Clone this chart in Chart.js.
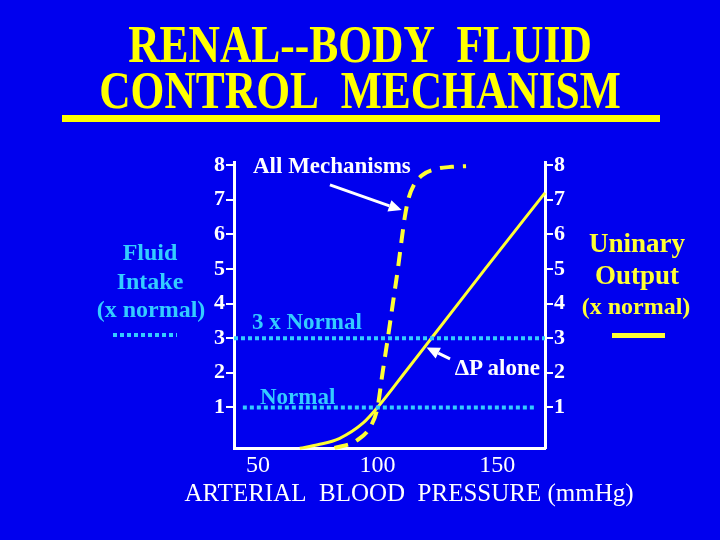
<!DOCTYPE html>
<html lang="en">
<head>
    <meta charset="UTF-8">
    <title>Renal--Body Fluid Control Mechanism</title>
    <script src="https://cdn.jsdelivr.net/npm/chart.js"></script>
    <style>
        body {
            margin: 0;
            background: #0000ee;
        }

        #wrap {
            position: relative;
            width: 720px;
            height: 540px;
            overflow: hidden;
            background: #0000ee;
            font-family: "Liberation Serif", "Times New Roman", serif;
            font-weight: bold;
        }

        #chart {
            position: absolute;
            left: 0;
            top: 0;
        }

        .t {
            position: absolute;
            white-space: nowrap;
            line-height: 1;
        }

        .title {
            left: 0;
            width: 720px;
            text-align: center;
            color: #ffff00;
            font-size: 53px;
            line-height: 53px;
            transform: scaleX(0.82);
        }

        .center { transform: translateX(-50%); }

        #bar {
            position: absolute;
            left: 62px;
            top: 115px;
            width: 598px;
            height: 7px;
            background: #ffff00;
        }

        /* little legend keys */
        #dotKey {
            position: absolute;
            left: 113px;
            top: 333px;
            width: 64px;
            height: 4px;
            background: repeating-linear-gradient(90deg, #33ccff 0 4px, transparent 4px 7px);
        }

        #lineKey {
            position: absolute;
            left: 612px;
            top: 333px;
            width: 53px;
            height: 5px;
            background: #ffff33;
        }
    </style>
</head>
<body>
<div id="wrap">
    <canvas id="chart" width="720" height="540"></canvas>

    <div class="t title" style="top:18px;">RENAL--BODY&nbsp; FLUID</div>
    <div class="t title" style="top:64px;">CONTROL&nbsp; MECHANISM</div>
    <div id="bar"></div>

    <!-- left axis label -->
    <div class="t center" style="left:150px; top:240px; font-size:24px; color:#33ccff;">Fluid</div>
    <div class="t center" style="left:150px; top:269px; font-size:24px; color:#33ccff;">Intake</div>
    <div class="t center" style="left:151px; top:297px; font-size:24px; color:#33ccff;">(x normal)</div>
    <div id="dotKey"></div>

    <!-- right axis label -->
    <div class="t center" style="left:637px; top:230px; font-size:27px; color:#ffff33;">Uninary</div>
    <div class="t center" style="left:637px; top:262px; font-size:27px; color:#ffff33;">Output</div>
    <div class="t center" style="left:636px; top:294px; font-size:24px; color:#ffff33;">(x normal)</div>
    <div id="lineKey"></div>

    <!-- annotations -->
    <div class="t" style="left:253px; top:154px; font-size:23px; color:#ffffff;">All Mechanisms</div>
    <div class="t" style="left:252px; top:310px; font-size:23px; color:#33ccff;">3 x Normal</div>
    <div class="t" style="left:260px; top:385px; font-size:23px; color:#33ccff;">Normal</div>
    <div class="t" style="right:180px; top:356px; font-size:23px; color:#ffffff;">&Delta;P alone</div>

    <div class="t center" style="left:409px; top:480px; font-size:25px; font-weight:normal; color:#ffffff;">ARTERIAL&nbsp; BLOOD&nbsp; PRESSURE (mmHg)</div>
</div>

<script>
    // axis setup
    const xRange = [40, 170];
    const yRange = [-0.173, 8.09];
    const xTicks = [50, 100, 150];
    const yTicks = [1, 2, 3, 4, 5, 6, 7, 8];

    // urinary output with pressure change alone (solid)
    const pressureAlone = [67.5, 75, 84, 94, 100, 112, 123, 145, 170];
    const outputAlone = [-0.18, -0.08, 0.1, 0.55, 1, 2.06, 3.04, 5, 7.2];

    // urinary output with all mechanisms (dashed)
    const pressureAll = [82, 91, 97.5, 100, 102.1, 104.3, 106.4, 108.5, 110, 111.4, 113, 115, 118.5, 124, 131, 137];
    const outputAll = [-0.17, 0.03, 0.5, 1, 2, 3, 4, 5, 5.8, 6.5, 7.05, 7.4, 7.7, 7.88, 7.95, 7.97];

    // fluid intake levels (dotted)
    const threeNormalX = [40, 170];
    const threeNormalY = [3, 3];
    const normalX = [43.7, 166.3];
    const normalY = [1, 1];

    // arrows, [pressure, output] of tail and head
    const arrowTails = [[80.1, 7.43], [130.3, 2.4]];
    const arrowHeads = [[110.1, 6.7], [120.5, 2.73]];

    const toPoints = (xs, ys) => xs.map((v, i) => ({ x: v, y: ys[i] }));
    const setTicks = list => scale => { scale.ticks = list.map(v => ({ value: v })); };

    const FONT = '"Liberation Serif", "Times New Roman", serif';

    const arrowPlugin = {
        id: 'arrows',
        afterDatasetsDraw(chart) {
            const { ctx, scales } = chart;
            ctx.save();
            ctx.strokeStyle = '#ffffff';
            ctx.fillStyle = '#ffffff';
            ctx.lineWidth = 3;
            arrowTails.forEach((tail, i) => {
                const x0 = scales.x.getPixelForValue(tail[0]);
                const y0 = scales.y.getPixelForValue(tail[1]);
                const x1 = scales.x.getPixelForValue(arrowHeads[i][0]);
                const y1 = scales.y.getPixelForValue(arrowHeads[i][1]);
                const ang = Math.atan2(y1 - y0, x1 - x0);
                const len = 13, half = 6;
                const bx = x1 - len * Math.cos(ang);
                const by = y1 - len * Math.sin(ang);
                ctx.beginPath();
                ctx.moveTo(x0, y0);
                ctx.lineTo(bx, by);
                ctx.stroke();
                ctx.beginPath();
                ctx.moveTo(x1, y1);
                ctx.lineTo(bx + half * Math.sin(ang), by - half * Math.cos(ang));
                ctx.lineTo(bx - half * Math.sin(ang), by + half * Math.cos(ang));
                ctx.closePath();
                ctx.fill();
            });
            ctx.restore();
        }
    };

    const yTickFont = { family: FONT, size: 22, weight: 'bold' };
    const xTickFont = { family: FONT, size: 24, weight: 'normal' };

    new Chart(document.getElementById('chart').getContext('2d'), {
        type: 'scatter',
        data: {
            datasets: [
                {
                    label: '3 x Normal',
                    data: toPoints(threeNormalX, threeNormalY),
                    showLine: true, borderColor: '#33ccff', borderWidth: 4,
                    borderDash: [4, 3], pointRadius: 0, clip: false
                },
                {
                    label: 'Normal',
                    data: toPoints(normalX, normalY),
                    showLine: true, borderColor: '#33ccff', borderWidth: 4,
                    borderDash: [4, 3], pointRadius: 0, clip: false
                },
                {
                    label: 'All Mechanisms',
                    data: toPoints(pressureAll, outputAll),
                    showLine: true, borderColor: '#ffff33', borderWidth: 4,
                    borderDash: [14, 9], pointRadius: 0,
                    cubicInterpolationMode: 'monotone', clip: false
                },
                {
                    label: 'ΔP alone',
                    data: toPoints(pressureAlone, outputAlone),
                    showLine: true, borderColor: '#ffff33', borderWidth: 3,
                    pointRadius: 0, cubicInterpolationMode: 'monotone', clip: false
                }
            ]
        },
        options: {
            responsive: false,
            animation: false,
            layout: { padding: { top: 162, left: 0, right: 0, bottom: 0 } },
            plugins: {
                legend: { display: false },
                tooltip: { enabled: false }
            },
            scales: {
                x: {
                    type: 'linear',
                    min: xRange[0], max: xRange[1],
                    afterBuildTicks: setTicks(xTicks),
                    afterFit: s => { s.height = 92; },
                    grid: { drawOnChartArea: false, drawTicks: false, color: '#ffffff' },
                    border: { display: true, color: '#ffffff', width: 3 },
                    ticks: { color: '#ffffff', font: xTickFont, padding: 3, maxRotation: 0 }
                },
                y: {
                    position: 'left',
                    min: yRange[0], max: yRange[1],
                    afterBuildTicks: setTicks(yTicks),
                    afterFit: s => { s.width = 234; },
                    grid: { drawOnChartArea: false, drawTicks: true, tickLength: 8, lineWidth: 2, color: '#ffffff' },
                    border: { display: true, color: '#ffffff', width: 3 },
                    ticks: { color: '#ffffff', font: yTickFont, padding: 1 }
                },
                y2: {
                    position: 'right',
                    min: yRange[0], max: yRange[1],
                    afterBuildTicks: setTicks(yTicks),
                    afterFit: s => { s.width = 175; },
                    grid: { drawOnChartArea: false, drawTicks: true, tickLength: 8, lineWidth: 2, color: '#ffffff' },
                    border: { display: true, color: '#ffffff', width: 3 },
                    ticks: { color: '#ffffff', font: yTickFont, padding: 1 }
                }
            }
        },
        plugins: [arrowPlugin]
    });
</script>
</body>
</html>
